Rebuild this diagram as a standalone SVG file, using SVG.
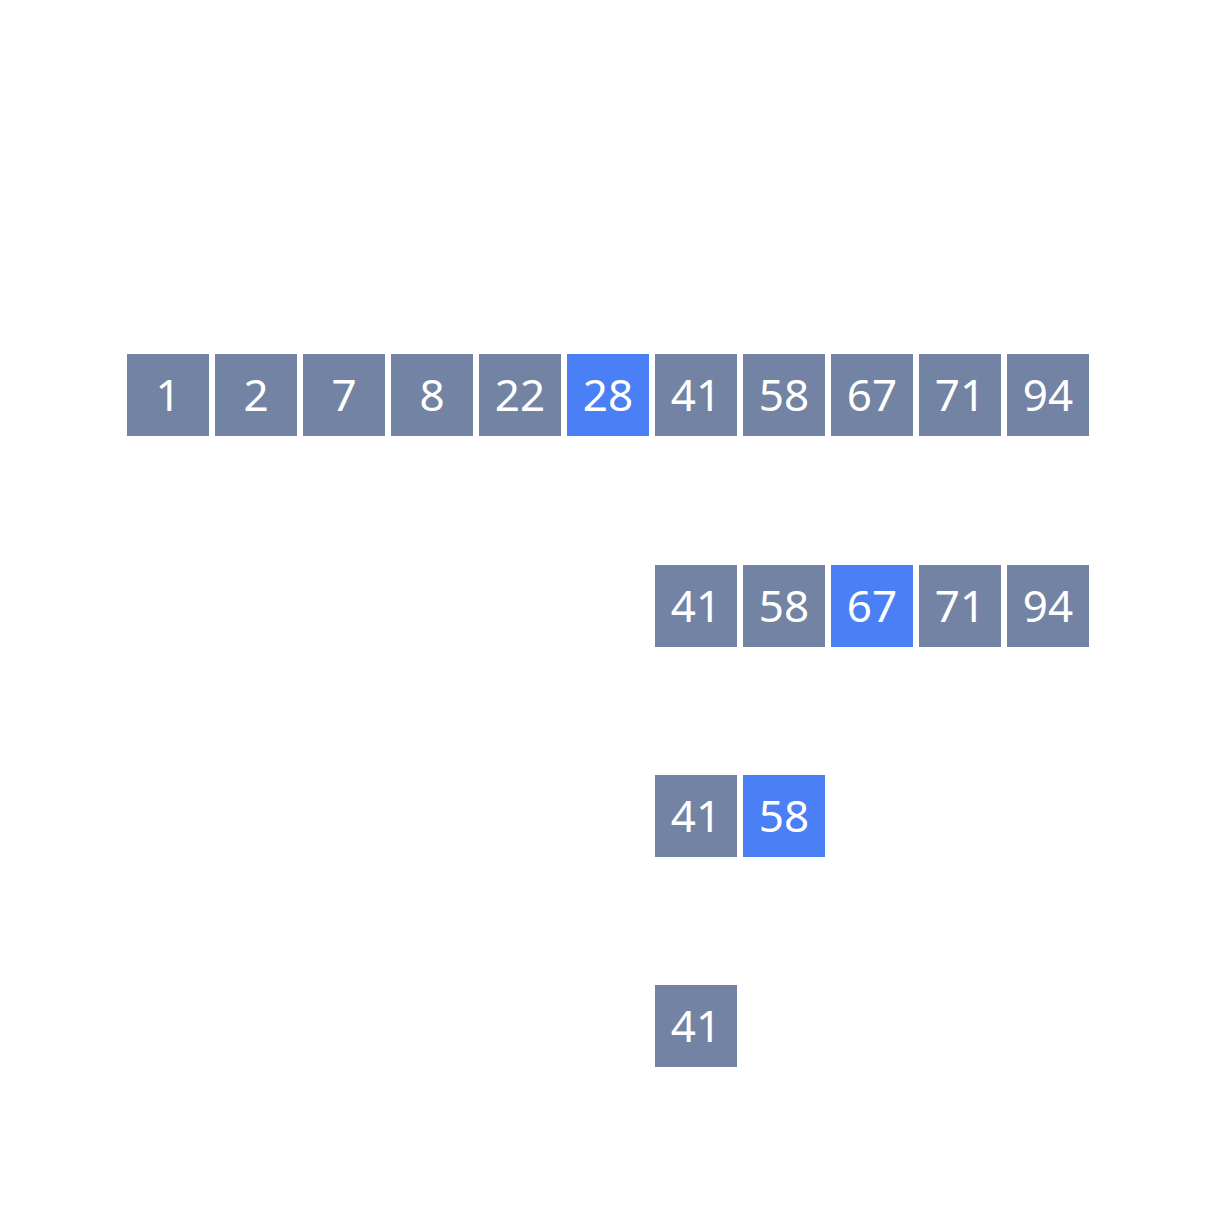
<svg xmlns="http://www.w3.org/2000/svg" width="1214" height="1214" viewBox="0 0 1214 1214">
<style>
.g{fill:#7383a3}
.b{fill:#4a7ff5}
text{font-family:"Noto Sans","Open Sans",sans-serif;font-size:44px;fill:#ffffff;text-anchor:middle}
</style>
<rect width="1214" height="1214" fill="#ffffff"/>
<g id="row1">
<g id="n1-1"><rect class="g" x="127" y="354" width="82" height="82"/><text x="168" y="411">1</text></g>
<g id="n1-2"><rect class="g" x="215" y="354" width="82" height="82"/><text x="256" y="411">2</text></g>
<g id="n1-3"><rect class="g" x="303" y="354" width="82" height="82"/><text x="344" y="411">7</text></g>
<g id="n1-4"><rect class="g" x="391" y="354" width="82" height="82"/><text x="432" y="411">8</text></g>
<g id="n1-5"><rect class="g" x="479" y="354" width="82" height="82"/><text x="520" y="411">22</text></g>
<g id="n1-6"><rect class="b" x="567" y="354" width="82" height="82"/><text x="608" y="411">28</text></g>
<g id="n1-7"><rect class="g" x="655" y="354" width="82" height="82"/><text x="696" y="411">41</text></g>
<g id="n1-8"><rect class="g" x="743" y="354" width="82" height="82"/><text x="784" y="411">58</text></g>
<g id="n1-9"><rect class="g" x="831" y="354" width="82" height="82"/><text x="872" y="411">67</text></g>
<g id="n1-10"><rect class="g" x="919" y="354" width="82" height="82"/><text x="960" y="411">71</text></g>
<g id="n1-11"><rect class="g" x="1007" y="354" width="82" height="82"/><text x="1048" y="411">94</text></g>
</g>
<g id="row2">
<g id="n2-1"><rect class="g" x="655" y="565" width="82" height="82"/><text x="696" y="622">41</text></g>
<g id="n2-2"><rect class="g" x="743" y="565" width="82" height="82"/><text x="784" y="622">58</text></g>
<g id="n2-3"><rect class="b" x="831" y="565" width="82" height="82"/><text x="872" y="622">67</text></g>
<g id="n2-4"><rect class="g" x="919" y="565" width="82" height="82"/><text x="960" y="622">71</text></g>
<g id="n2-5"><rect class="g" x="1007" y="565" width="82" height="82"/><text x="1048" y="622">94</text></g>
</g>
<g id="row3">
<g id="n3-1"><rect class="g" x="655" y="775" width="82" height="82"/><text x="696" y="832">41</text></g>
<g id="n3-2"><rect class="b" x="743" y="775" width="82" height="82"/><text x="784" y="832">58</text></g>
</g>
<g id="row4">
<g id="n4-1"><rect class="g" x="655" y="985" width="82" height="82"/><text x="696" y="1042">41</text></g>
</g>
<g id="connectors"/>
</svg>
